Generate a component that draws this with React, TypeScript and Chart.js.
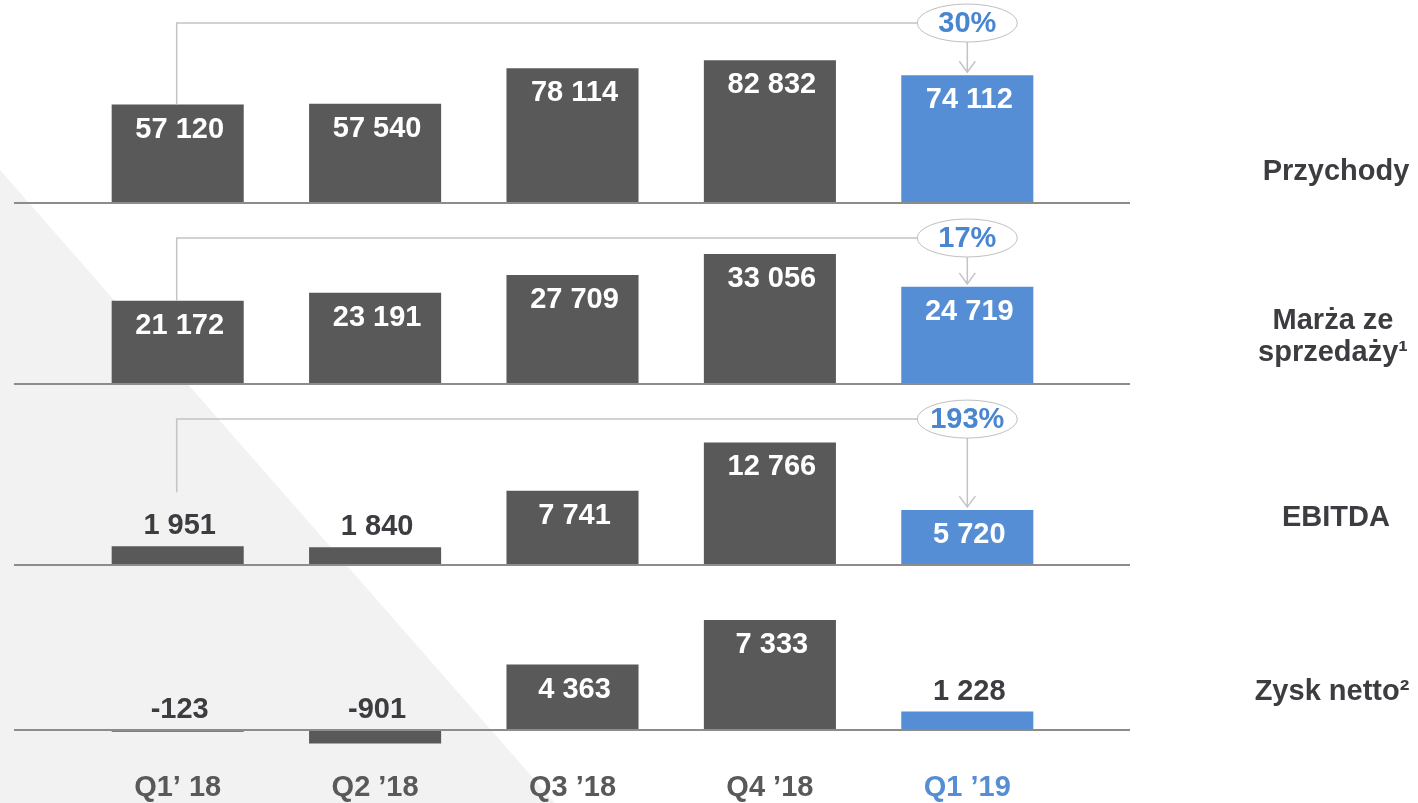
import React, { useEffect, useRef } from "react";
import { Chart, registerables } from "chart.js";

Chart.register(...registerables);

// ---- data ----
const CATEGORIES = ["Q1’ 18", "Q2 ’18", "Q3 ’18", "Q4 ’18", "Q1 ’19"];
const PRZYCHODY = [57120, 57540, 78114, 82832, 74112];
const MARZA = [21172, 23191, 27709, 33056, 24719];
const EBITDA_VALUES = [1951, 1840, 7741, 12766, 5720];
const ZYSK_NETTO = [-123, -901, 4363, 7333, 1228];
const ROW_LABELS = [["Przychody"], ["Marża ze", "sprzedaży¹"], ["EBITDA"], ["Zysk netto²"]];
const GROWTH_LABELS = ["30%", "17%", "193%", ""];
const BRACKET_LEVELS = [104400, 37150, 15200, 0];

// ---- layout / style ----
const W = 1418;
const H = 803;
const PANEL_ZERO_PX = [203, 384, 565, 730];
const PANEL_PX_PER_UNIT = [1.724e-3, 3.93e-3, 9.6e-3, 15e-3];
const ROW_LABEL_Y = [[172], [321, 353], [518], [692]];
const ROW_LABEL_X = [1336, 1333, 1336, 1332];
const DARK = "#595959";
const BLUE = "#558ed5";
const TEXT_DARK = "#3c3c41";
const FONT = '"Liberation Sans", Arial, sans-serif';

const SERIES = [PRZYCHODY, MARZA, EBITDA_VALUES, ZYSK_NETTO];

const fmt = (v: number) => {
  const s = Math.abs(v).toString().replace(/\B(?=(\d{3})+(?!\d))/g, " ");
  return (v < 0 ? "-" : "") + s;
};

const overlayPlugin = {
  id: "overlay",
  beforeDraw(chart: any) {
    const ctx = chart.ctx;
    ctx.save();
    ctx.fillStyle = "#ffffff";
    ctx.fillRect(0, 0, chart.width, chart.height);
    ctx.fillStyle = "#f2f2f2";
    ctx.beginPath();
    ctx.moveTo(0, 170);
    ctx.lineTo(555, H);
    ctx.lineTo(0, H);
    ctx.closePath();
    ctx.fill();
    ctx.restore();
  },
  afterDatasetsDraw(chart: any) {
    const ctx = chart.ctx;
    const xs = chart.scales.x;
    ctx.save();
    SERIES.forEach((series, p) => {
      const ys = chart.scales["y" + p];
      const meta = chart.getDatasetMeta(p);
      const zero = ys.getPixelForValue(0);
      // baseline
      ctx.strokeStyle = "#8c8c8c";
      ctx.lineWidth = 2;
      ctx.beginPath();
      ctx.moveTo(14, zero);
      ctx.lineTo(1130, zero);
      ctx.stroke();

      // value labels
      ctx.font = "bold 29px " + FONT;
      ctx.textAlign = "center";
      ctx.textBaseline = "middle";
      const labelTops: number[] = [];
      series.forEach((v, i) => {
        const bar = meta.data[i];
        const top = Math.min(bar.y, bar.base);
        const h = Math.abs(bar.base - bar.y);
        let cy;
        if (h >= 45) {
          ctx.fillStyle = "#ffffff";
          cy = top + 24;
          labelTops.push(top);
        } else {
          ctx.fillStyle = TEXT_DARK;
          cy = (v < 0 ? zero : top) - 21;
          labelTops.push(cy - 33);
        }
        ctx.fillText(fmt(v), bar.x + 2, cy + 1);
      });

      // growth bracket
      const g = GROWTH_LABELS[p];
      if (g) {
        const first = meta.data[0];
        const last = meta.data[series.length - 1];
        const hy = ys.getPixelForValue(BRACKET_LEVELS[p]);
        const rx = 50;
        const ry = 19;
        ctx.strokeStyle = "#c4c4c4";
        ctx.lineWidth = 1.5;
        ctx.beginPath();
        ctx.moveTo(first.x - 1, labelTops[0]);
        ctx.lineTo(first.x - 1, hy);
        ctx.lineTo(last.x - rx, hy);
        ctx.stroke();
        // arrow
        const tip = Math.min(last.y, last.base) - 3;
        ctx.beginPath();
        ctx.moveTo(last.x, hy + ry);
        ctx.lineTo(last.x, tip);
        ctx.moveTo(last.x - 8, tip - 11);
        ctx.lineTo(last.x, tip);
        ctx.lineTo(last.x + 8, tip - 11);
        ctx.stroke();
        // ellipse
        ctx.beginPath();
        ctx.ellipse(last.x, hy, rx, ry, 0, 0, Math.PI * 2);
        ctx.fillStyle = "#ffffff";
        ctx.fill();
        ctx.strokeStyle = "#bfbfbf";
        ctx.lineWidth = 1;
        ctx.stroke();
        ctx.fillStyle = "#4a86d0";
        ctx.font = "bold 29px " + FONT;
        ctx.fillText(g, last.x, hy + 1);
      }

      // row labels
      ctx.fillStyle = TEXT_DARK;
      ctx.font = "bold 29px " + FONT;
      ROW_LABELS[p].forEach((line, li) => {
        ctx.fillText(line, ROW_LABEL_X[p], ROW_LABEL_Y[p][li]);
      });
    });

    // category labels
    ctx.font = "bold 29px " + FONT;
    ctx.textAlign = "center";
    ctx.textBaseline = "middle";
    CATEGORIES.forEach((c, i) => {
      ctx.fillStyle = i === CATEGORIES.length - 1 ? BLUE : DARK;
      ctx.fillText(c, xs.getPixelForValue(i), 788);
    });
    ctx.restore();
  },
};

export default function App() {
  const ref = useRef<HTMLCanvasElement | null>(null);
  useEffect(() => {
    document.body.style.margin = "0";
    const canvas = ref.current;
    if (!canvas) return;
    const colors = CATEGORIES.map((_, i) => (i === CATEGORIES.length - 1 ? BLUE : DARK));
    const scales: any = {
      x: { type: "category", display: false, offset: true, grid: { display: false } },
    };
    SERIES.forEach((_, p) => {
      const z = PANEL_ZERO_PX[p];
      const s = PANEL_PX_PER_UNIT[p];
      scales["y" + p] = {
        type: "linear",
        display: false,
        min: -(H - z) / s,
        max: z / s,
      };
    });
    const chart = new Chart(canvas, {
      type: "bar",
      data: {
        labels: CATEGORIES,
        datasets: SERIES.map((data, p) => ({
          label: ROW_LABELS[p].join(" "),
          data,
          yAxisID: "y" + p,
          backgroundColor: colors,
          borderWidth: 0,
          grouped: false,
          barPercentage: 0.669,
          categoryPercentage: 1,
        })),
      } as any,
      options: {
        responsive: false,
        animation: false,
        devicePixelRatio: 1,
        layout: { padding: { left: 79, right: W - 1066, top: 0, bottom: 0 } },
        plugins: { legend: { display: false }, tooltip: { enabled: false } },
        scales,
      } as any,
      plugins: [overlayPlugin],
    });
    return () => chart.destroy();
  }, []);
  return <canvas ref={ref} width={W} height={H} style={{ display: "block", width: W, height: H }} />;
}
